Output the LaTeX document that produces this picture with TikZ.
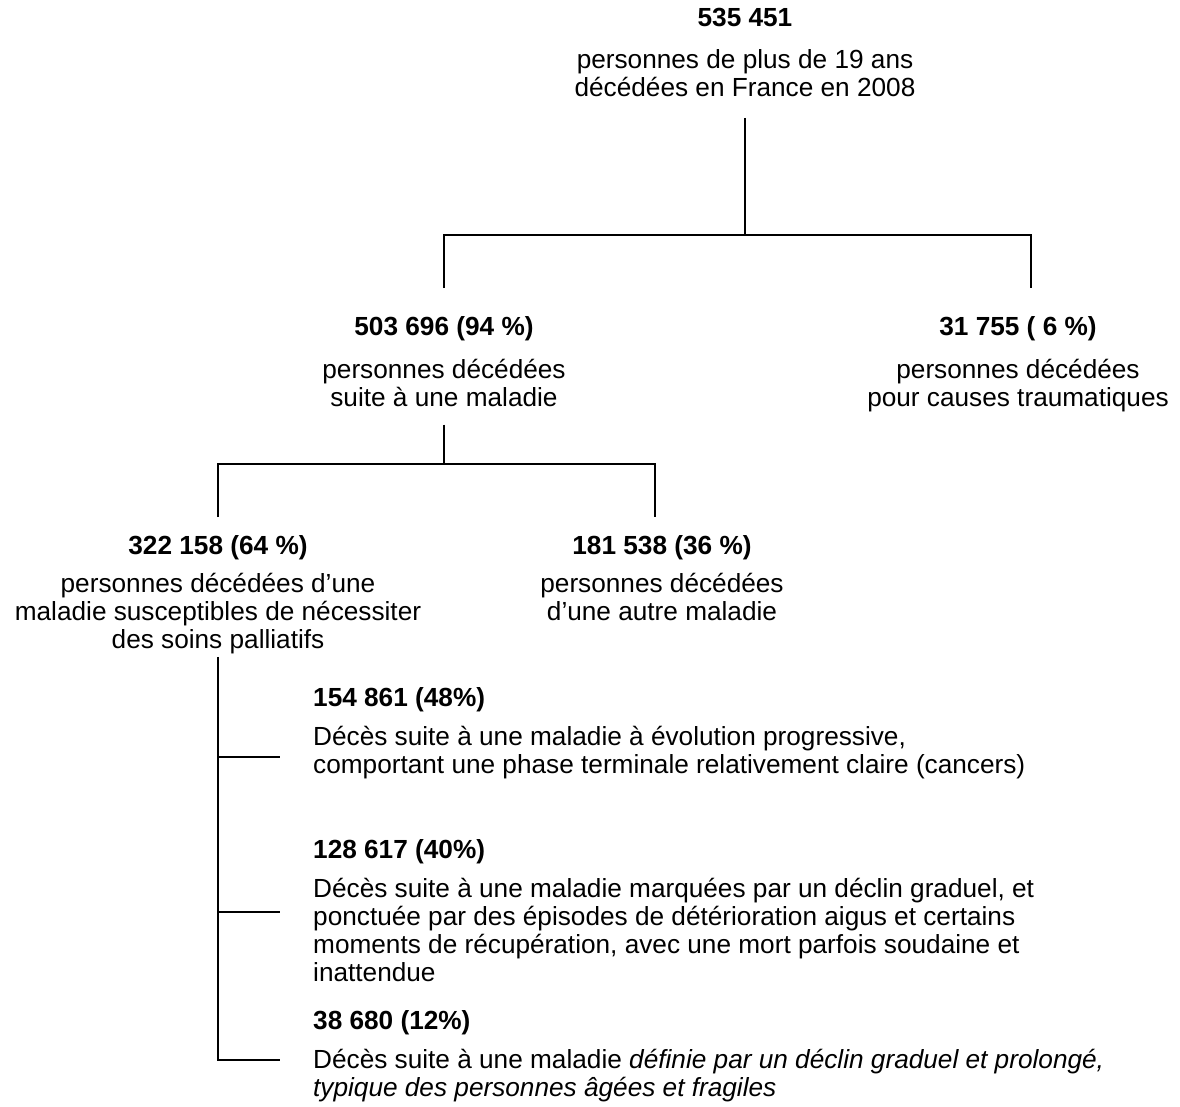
\documentclass[tikz,border=0pt]{standalone}
\usepackage{fontspec}
\setmainfont{Liberation Sans}
\usetikzlibrary{positioning}

\tikzset{
  link/.style={draw=black, line width=2pt},
  block/.style={align=center, inner sep=0pt, anchor=north,
    font=\fontsize{26.2}{28}\selectfont},
  item/.style={align=left, inner sep=0pt, anchor=north west,
    font=\fontsize{26.2}{28}\selectfont}
}

\begin{document}
\begin{tikzpicture}[x=1pt,y=-1pt]
        \useasboundingbox (0,0) rectangle (1180,1107);
        % top of the tree
        \node[block] (total) at (745,8) {\textbf{535 451}\\[14pt]
           personnes de plus de 19 ans\\ décédées en France en 2008};
        \node[block] (maladie) at (444,316) {\textbf{503 696 (94 \%)}\\[15pt]
           personnes décédées\\ suite à une maladie};
        \node[block] (trauma) at (1018,316) {\textbf{31 755 ( 6 \%)}\\[15pt]
           personnes décédées\\ pour causes traumatiques};
        \node[block] (palliatif) at (218,535) {\textbf{322 158 (64 \%)}\\[10pt]
           personnes décédées d’une\\ maladie susceptibles de nécessiter\\ des soins palliatifs};
        \node[block] (autre) at (662,535) {\textbf{181 538 (36 \%)}\\[10pt]
           personnes décédées\\ d’une autre maladie};
        % the three kinds of illness
        \node[item] (cancer) at (313,687) {\textbf{154 861 (48\%)}\\[11pt]
           Décès suite à une maladie à évolution progressive,\\
           comportant une phase terminale relativement claire (cancers)};
        \node[item] (declin) at (313,839) {\textbf{128 617 (40\%)}\\[11pt]
           Décès suite à une maladie marquées par un déclin graduel, et\\
           ponctuée par des épisodes de détérioration aigus et certains\\
           moments de récupération, avec une mort parfois soudaine et\\
           inattendue};
        \node[item] (fragile) at (313,1010) {\textbf{38 680 (12\%)}\\[11pt]
           Décès suite à une maladie \textit{définie par un déclin graduel et prolongé,}\\
           \textit{typique des personnes âgées et fragiles}};

        \coordinate (j0) at (745,235);
        \coordinate (j1) at (444,464);
        \coordinate (k1) at (218,757);
        \coordinate (k2) at (218,912);
        \coordinate (k3) at (218,1060);

        \draw[link] ([yshift=-21pt]total.south) -- (j0);
        \draw[link] ([yshift=28pt]maladie.north) |- (j0) -| ([xshift=13pt,yshift=28pt]trauma.north);
        \draw[link] ([yshift=-18pt]maladie.south) -- (j1);
        \draw[link] ([yshift=18pt]palliatif.north) |- (j1) -| ([xshift=-7pt,yshift=18pt]autre.north);
        \draw[link, shorten >=33pt] ([yshift=-3pt]palliatif.south) -- (k3) -- (k3 -| fragile.west);
        \draw[link, shorten >=33pt] (k1) -- (k1 -| cancer.west);
        \draw[link, shorten >=33pt] (k2) -- (k2 -| declin.west);
      \end{tikzpicture}
\end{document}
